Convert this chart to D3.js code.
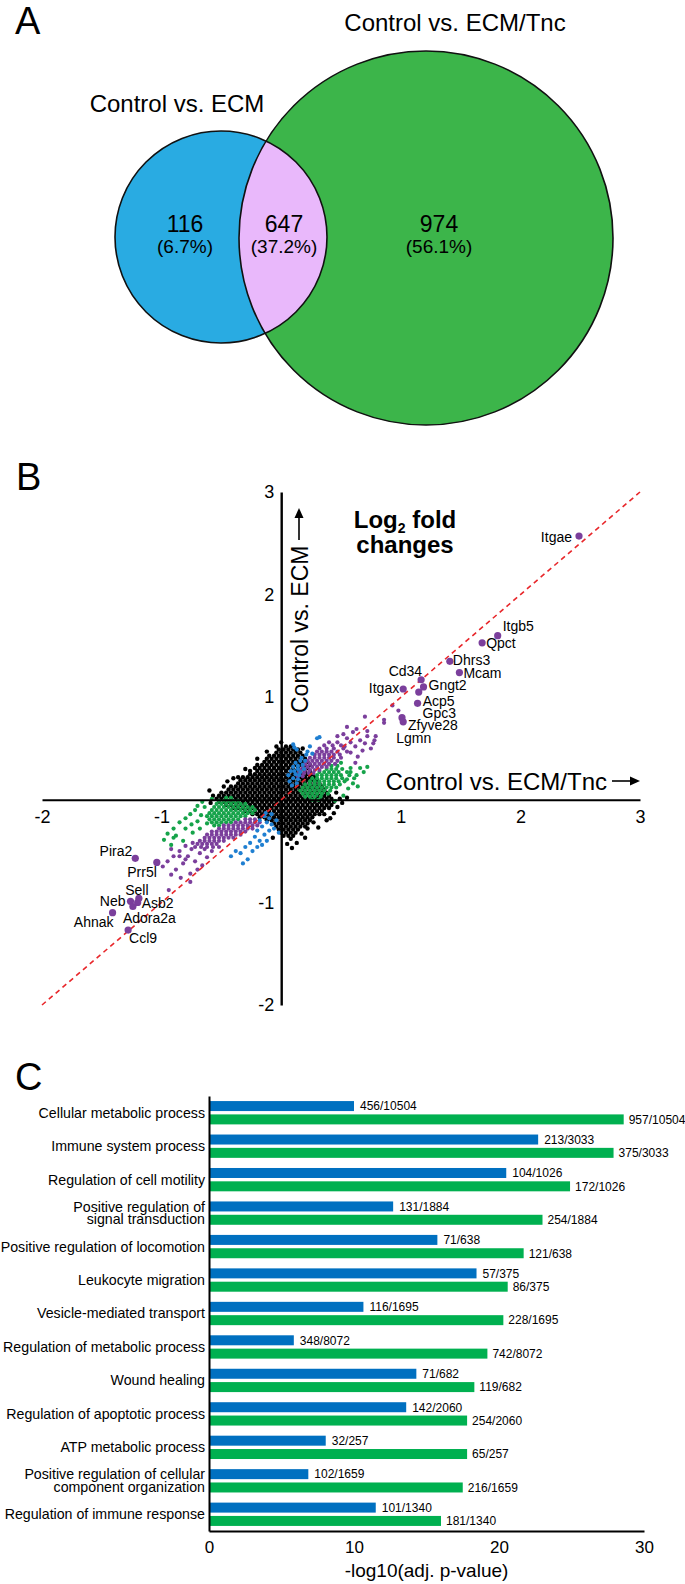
<!DOCTYPE html>
<html><head><meta charset="utf-8">
<script src="https://cdn.jsdelivr.net/npm/d3@7"></script>
<style>
body{margin:0;background:#fff;}
svg{display:block;font-family:"Liberation Sans",Arial,Helvetica,sans-serif;}
</style></head><body>
<svg id="chart" width="685" height="1584"></svg>
<script>
// ================= DATA =================
// Panel A – Venn
const vennSetNames = ["Control vs. ECM", "Control vs. ECM/Tnc"];
const vennCounts = [116, 647, 974];
const vennPercents = ["(6.7%)", "(37.2%)", "(56.1%)"];

// Panel B – log2 fold changes
const xTicksB = [-2, -1, 1, 2, 3];
const yTicksB = [3, 2, 1, -1, -2];
const geneNames = ["Itgae","Itgb5","Qpct","Dhrs3","Mcam","Cd34","Itgax","Gngt2","Acp5","Gpc3","Zfyve28","Lgmn",
                   "Pira2","Prr5l","Sell","Neb","Asb2","Adora2a","Ahnak","Ccl9"];
const geneX = [2.49,1.81,1.68,1.41,1.49,1.17,1.02,1.19,1.15,1.14,1.01,1.02,
               -1.22,-1.04,-1.19,-1.26,-1.20,-1.24,-1.41,-1.28];
const geneY = [2.57,1.60,1.53,1.35,1.24,1.17,1.08,1.10,1.05,0.94,0.80,0.76,
               -0.57,-0.61,-0.96,-0.99,-1.00,-1.04,-1.10,-1.27];

// black: not significant (rows: [y, x values])
const blackRows = [
 [0.52,[0.04,0.08]],
 [0.49,[-0.02,0.02,0.06,0.10,0.14]],
 [0.46,[-0.04,0.00,0.04,0.08,0.12,0.16]],
 [0.43,[-0.10,-0.06,-0.02,0.02,0.06,0.10,0.14,0.18]],
 [0.40,[-0.12,-0.08,-0.04,0.00,0.04,0.08,0.12,0.16,0.20]],
 [0.37,[-0.14,-0.10,-0.06,-0.02,0.02,0.06,0.10,0.14,0.18,0.22]],
 [0.34,[-0.20,-0.16,-0.12,-0.08,-0.04,0.00,0.04,0.08,0.12,0.16,0.20,0.24]],
 [0.31,[-0.22,-0.18,-0.14,-0.10,-0.06,-0.02,0.02,0.06,0.10,0.14,0.18,0.22]],
 [0.28,[-0.26,-0.20,-0.16,-0.12,-0.08,-0.04,0.00,0.04,0.08,0.12,0.16,0.20,0.24]],
 [0.25,[-0.26,-0.22,-0.18,-0.14,-0.10,-0.06,-0.02,0.02,0.06,0.10,0.14,0.18,0.22,0.26]],
 [0.22,[-0.32,-0.28,-0.24,-0.20,-0.16,-0.12,-0.08,-0.04,0.00,0.04,0.08,0.12,0.16,0.20,0.24,0.28]],
 [0.19,[-0.34,-0.30,-0.26,-0.22,-0.18,-0.14,-0.10,-0.06,-0.02,0.02,0.06,0.10,0.14,0.18,0.22,0.26,0.30]],
 [0.16,[-0.36,-0.32,-0.28,-0.24,-0.20,-0.16,-0.12,-0.08,-0.04,0.00,0.04,0.08,0.12,0.16,0.20,0.24,0.28,0.32]],
 [0.13,[-0.42,-0.38,-0.34,-0.30,-0.26,-0.22,-0.18,-0.14,-0.10,-0.06,-0.02,0.02,0.06,0.10,0.14,0.18,0.22,0.26,0.30,0.34]],
 [0.10,[-0.44,-0.40,-0.36,-0.32,-0.28,-0.24,-0.20,-0.16,-0.12,-0.08,-0.04,0.00,0.04,0.08,0.12,0.16,0.20,0.24,0.28,0.32,0.36]],
 [0.07,[-0.50,-0.46,-0.42,-0.38,-0.34,-0.30,-0.26,-0.22,-0.18,-0.14,-0.10,-0.06,-0.02,0.02,0.06,0.10,0.14,0.18,0.22,0.26,0.30,0.34,0.38]],
 [0.04,[-0.52,-0.48,-0.44,-0.40,-0.36,-0.32,-0.28,-0.24,-0.20,-0.16,-0.12,-0.08,-0.04,0.00,0.04,0.08,0.12,0.16,0.20,0.24,0.28,0.32,0.36,0.40]],
 [0.01,[-0.54,-0.50,-0.46,-0.42,-0.38,-0.34,-0.30,-0.26,-0.22,-0.18,-0.14,-0.10,-0.06,-0.02,0.02,0.06,0.10,0.14,0.18,0.22,0.26,0.30,0.34,0.38,0.42]],
 [-0.02,[-0.52,-0.48,-0.44,-0.40,-0.36,-0.32,-0.28,-0.24,-0.20,-0.16,-0.12,-0.08,-0.04,0.00,0.04,0.08,0.12,0.16,0.20,0.24,0.28,0.32,0.36,0.40,0.44]],
 [-0.05,[-0.46,-0.42,-0.38,-0.34,-0.30,-0.26,-0.22,-0.18,-0.14,-0.10,-0.06,-0.02,0.02,0.06,0.10,0.14,0.18,0.22,0.26,0.30,0.34,0.38,0.42]],
 [-0.08,[-0.40,-0.36,-0.32,-0.28,-0.24,-0.20,-0.16,-0.12,-0.08,-0.04,0.00,0.04,0.08,0.12,0.16,0.20,0.24,0.28,0.32,0.36,0.40]],
 [-0.11,[-0.30,-0.26,-0.22,-0.18,-0.14,-0.10,-0.06,-0.02,0.02,0.06,0.10,0.14,0.18,0.22,0.26,0.30,0.34]],
 [-0.14,[-0.24,-0.20,-0.16,-0.12,-0.08,-0.04,0.00,0.04,0.08,0.12,0.16,0.20,0.24,0.28,0.32]],
 [-0.17,[-0.18,-0.14,-0.10,-0.06,-0.02,0.02,0.06,0.10,0.14,0.18,0.22,0.26]],
 [-0.20,[-0.12,-0.08,-0.04,0.00,0.04,0.08,0.12,0.16,0.20,0.24]],
 [-0.23,[-0.06,-0.02,0.02,0.06,0.10,0.14,0.18,0.22]],
 [-0.26,[-0.04,0.00,0.04,0.08,0.12,0.16,0.20]],
 [-0.29,[-0.02,0.02,0.06,0.10,0.14]],
 [-0.32,[0.00,0.04,0.08,0.12]],
 [-0.35,[0.02,0.06,0.10]],
 [-0.38,[0.08]]
];
const blackExtra = [[0.13,-0.42],[0.17,-0.33],[0.47,-0.07],[-0.57,0.04],[0.22,-0.28],[0.49,0.01],[-0.04,0.52],
 [0.36,-0.14],[-0.36,0.22],[0.27,-0.22],[-0.48,0.13],[-0.40,0.21],[-0.30,0.30],[-0.20,0.40],[-0.12,0.47],
 [0.00,0.56],[0.18,0.50],[0.46,0.07],[0.51,-0.03],[0.44,-0.13],[0.38,-0.20],[0.31,-0.27],[0.20,-0.37],
 [0.09,-0.47],[-0.07,-0.37],[-0.60,0.09],[-0.59,-0.03],[0.55,0.02],[0.41,-0.18],[-0.45,0.18],[0.05,-0.43]];

// green: significant only in Control vs. ECM/Tnc
const greenRows = [
 [0.33,[0.42,0.47]],
 [0.30,[0.38,0.42,0.46,0.51]],
 [0.27,[0.32,0.36,0.40,0.44,0.48,0.55]],
 [0.24,[0.30,0.34,0.38,0.42,0.46,0.50,0.57]],
 [0.21,[0.26,0.30,0.34,0.38,0.42,0.46,0.51,0.61]],
 [0.18,[0.24,0.28,0.32,0.36,0.40,0.44,0.48,0.53]],
 [0.15,[0.20,0.24,0.28,0.32,0.36,0.40,0.44,0.49]],
 [0.12,[0.18,0.22,0.26,0.30,0.34,0.38,0.42,0.46]],
 [0.09,[0.16,0.20,0.24,0.28,0.32,0.36,0.41]],
 [0.06,[0.18,0.22,0.26,0.30,0.34,0.39]],
 [0.03,[0.20,0.24,0.28,0.33]],
 [0.00,[0.26,0.31]],
 [0.02,[-0.46,-0.42]],
 [-0.01,[-0.52,-0.48,-0.44,-0.40,-0.36]],
 [-0.04,[-0.54,-0.50,-0.46,-0.42,-0.38,-0.34,-0.30]],
 [-0.07,[-0.56,-0.52,-0.48,-0.44,-0.40,-0.36,-0.32,-0.28,-0.24]],
 [-0.10,[-0.58,-0.54,-0.50,-0.46,-0.42,-0.38,-0.34,-0.30,-0.26,-0.22]],
 [-0.13,[-0.60,-0.56,-0.52,-0.48,-0.44,-0.40,-0.36,-0.32,-0.28,-0.24]],
 [-0.16,[-0.62,-0.58,-0.54,-0.50,-0.46,-0.42,-0.38,-0.34,-0.30]],
 [-0.19,[-0.60,-0.56,-0.52,-0.48,-0.44,-0.40,-0.36]],
 [-0.22,[-0.58,-0.54,-0.50,-0.46,-0.42]],
 [-0.25,[-0.56,-0.52]]
];
const greenExtra = [[0.58,0.31],[0.63,0.24],[0.56,0.11],[0.52,0.04],[0.66,0.31],[0.45,-0.01],[0.60,0.16],[0.58,0.27],
 [0.55,0.20],[0.69,0.27],[0.72,0.32],[0.64,0.13],[0.50,0.36],
 [-0.72,-0.10],[-0.76,-0.14],[-0.70,-0.21],[-0.80,-0.18],[-0.85,-0.22],[-0.90,-0.28],[-0.95,-0.33],[-0.98,-0.39],
 [-0.88,-0.35],[-0.80,-0.28],[-0.82,-0.40],[-0.74,-0.32],[-0.68,-0.28],[-0.92,-0.44],[-0.70,-0.06],[-0.66,-0.02],
 [-0.90,-0.37],[-0.64,-0.07],[-0.67,-0.15],[-0.75,-0.24],[-0.62,-0.23],[-0.58,0.01]];

// purple: significant in both comparisons
const purpleRows = [
 [0.56,[0.40,0.47]],
 [0.53,[0.36,0.43,0.50]],
 [0.50,[0.32,0.38,0.44,0.52]],
 [0.47,[0.30,0.34,0.38,0.42,0.47,0.55]],
 [0.44,[0.28,0.32,0.36,0.40,0.44,0.49]],
 [0.41,[0.24,0.28,0.32,0.36,0.40,0.44,0.50]],
 [0.38,[0.22,0.26,0.30,0.34,0.38,0.42,0.47]],
 [0.35,[0.20,0.24,0.28,0.32,0.36,0.40,0.45]],
 [0.32,[0.18,0.22,0.26,0.30,0.34,0.38]],
 [0.29,[0.16,0.20,0.24,0.28,0.32]],
 [0.26,[0.15,0.19,0.23,0.27]],
 [0.23,[0.14,0.18]],
 [-0.19,[-0.30,-0.26,-0.22]],
 [-0.22,[-0.38,-0.34,-0.30,-0.26,-0.22,-0.18]],
 [-0.25,[-0.48,-0.44,-0.40,-0.36,-0.32,-0.28,-0.24,-0.20]],
 [-0.28,[-0.52,-0.48,-0.44,-0.40,-0.36,-0.32,-0.28,-0.24]],
 [-0.31,[-0.58,-0.54,-0.50,-0.46,-0.42,-0.38,-0.34,-0.30]],
 [-0.34,[-0.62,-0.58,-0.54,-0.50,-0.46,-0.42,-0.38,-0.34]],
 [-0.37,[-0.64,-0.60,-0.56,-0.52,-0.48,-0.44,-0.40]],
 [-0.40,[-0.68,-0.64,-0.60,-0.56,-0.52,-0.48]],
 [-0.43,[-0.70,-0.66,-0.62,-0.58,-0.54]],
 [-0.46,[-0.72,-0.67,-0.62,-0.57]]
];
const purpleExtra = [[0.58,0.46],[0.62,0.52],[0.55,0.60],[0.66,0.58],[0.70,0.55],[0.75,0.50],[0.72,0.62],[0.60,0.66],
 [0.52,0.64],[0.78,0.58],[0.68,0.48],[0.64,0.42],[0.47,0.62],[0.55,0.71],[0.63,0.69],[0.72,0.67],[0.77,0.55],[0.70,0.81],
 [0.86,0.78],[0.86,0.75],[0.93,0.92],[0.98,0.87],[0.79,0.62],[0.62,0.36],[0.53,0.52],[0.58,0.56],
 [-0.75,-0.48],[-0.80,-0.45],[-0.85,-0.50],[-0.78,-0.55],[-0.90,-0.55],[-0.72,-0.60],[-0.82,-0.62],[-0.95,-0.60],
 [-0.70,-0.68],[-0.88,-0.68],[-0.76,-0.72],[-0.68,-0.52],[-0.62,-0.56],[-0.58,-0.50],[-0.92,-0.48],[-0.84,-0.76],
 [-0.94,-0.88],[-0.99,-0.65],[-0.52,-0.46],[-0.66,-0.64],[-0.76,-0.80],[-0.85,-0.55],[-0.92,-0.73],[-0.74,-0.42],
 [-0.80,-0.58],[-0.64,-0.48]];

// blue: significant only in Control vs. ECM
const bluePts = [[0.10,0.54],[0.11,0.51],[0.13,0.49],[0.21,0.44],[0.30,0.60],[0.32,0.61],[0.24,0.52],[0.17,0.41],
 [0.12,0.36],[0.10,0.32],[0.14,0.30],[0.08,0.28],[0.12,0.25],[0.16,0.27],[0.10,0.21],[0.14,0.20],[0.07,0.18],
 [0.18,0.34],[0.20,0.38],[0.16,0.38],[0.06,0.24],[0.09,0.14],[0.13,0.16],[0.22,0.47],[0.26,0.45],[0.19,0.30],
 [0.14,0.33],[0.11,0.28],[0.15,0.24],
 [-0.14,-0.16],[-0.10,-0.18],[-0.12,-0.22],[-0.08,-0.24],[-0.16,-0.26],[-0.06,-0.28],[-0.10,-0.30],[-0.04,-0.20],
 [-0.18,-0.20],[-0.13,-0.13],[-0.08,-0.14],[-0.20,-0.30],[-0.14,-0.34],[-0.22,-0.36],[-0.18,-0.40],[-0.26,-0.42],
 [-0.30,-0.46],[-0.24,-0.50],[-0.34,-0.52],[-0.28,-0.58],[-0.38,-0.50],[-0.20,-0.46],[-0.12,-0.40],[-0.02,-0.32],
 [-0.42,-0.55],[-0.32,-0.62],[-0.16,-0.44]];

// Panel C – GO terms
const goTerms = ["Cellular metabolic process","Immune system process","Regulation of cell motility",
 "Positive regulation of\nsignal transduction","Positive regulation of locomotion","Leukocyte migration",
 "Vesicle-mediated transport","Regulation of metabolic process","Wound healing",
 "Regulation of apoptotic process","ATP metabolic process",
 "Positive regulation of cellular\ncomponent organization","Regulation of immune response"];
const ecmValues = [10.0,22.7,20.5,12.7,15.75,18.45,10.65,5.85,14.3,13.6,8.05,6.85,11.5];
const tncValues = [28.6,27.9,24.9,23.0,21.7,20.6,20.3,19.2,18.3,17.8,17.8,17.5,16.0];
const ecmLabels = ["456/10504","213/3033","104/1026","131/1884","71/638","57/375","116/1695","348/8072","71/682","142/2060","32/257","102/1659","101/1340"];
const tncLabels = ["957/10504","375/3033","172/1026","254/1884","121/638","86/375","228/1695","742/8072","119/682","254/2060","65/257","216/1659","181/1340"];
const xTicksC = [0, 10, 20, 30];

// ================= LAYOUT =================
const FONT = "'Liberation Sans', Arial, Helvetica, sans-serif";
const svg = d3.select("#chart");

// Panel letters
const letters = [{t:"A", x:15, y:34},{t:"B", x:16, y:490},{t:"C", x:15, y:1090}];
svg.selectAll("text.letter").data(letters).join("text").attr("class","letter")
  .attr("x",d=>d.x).attr("y",d=>d.y).attr("font-size",38).text(d=>d.t);

// ---------- Panel A ----------
const vennGeom = [{cx:221, cy:237, r:106, fill:"#29abe2"}, {cx:426, cy:238, r:187, fill:"#3cb54a"}];
const gA = svg.append("g");
gA.selectAll("circle.fillc").data(vennGeom).join("circle").attr("class","fillc")
  .attr("cx",d=>d.cx).attr("cy",d=>d.cy).attr("r",d=>d.r).attr("fill",d=>d.fill);
const defs = svg.append("defs");
defs.append("clipPath").attr("id","clipGreen").append("circle")
  .attr("cx",vennGeom[1].cx).attr("cy",vennGeom[1].cy).attr("r",vennGeom[1].r);
gA.append("circle").attr("cx",vennGeom[0].cx).attr("cy",vennGeom[0].cy).attr("r",vennGeom[0].r)
  .attr("fill","#e9b8fb").attr("clip-path","url(#clipGreen)");
gA.selectAll("circle.edge").data(vennGeom).join("circle").attr("class","edge")
  .attr("cx",d=>d.cx).attr("cy",d=>d.cy).attr("r",d=>d.r).attr("fill","none")
  .attr("stroke","#111").attr("stroke-width",1.6);
const setTitlePos = [{x:177, y:112},{x:455, y:31}];
gA.selectAll("text.settitle").data(vennSetNames).join("text").attr("class","settitle")
  .attr("x",(d,i)=>setTitlePos[i].x).attr("y",(d,i)=>setTitlePos[i].y)
  .attr("text-anchor","middle").attr("font-size",24).text(d=>d);
const regionX = [185, 284, 439];
gA.selectAll("text.cnt").data(vennCounts).join("text").attr("class","cnt")
  .attr("x",(d,i)=>regionX[i]).attr("y",232).attr("text-anchor","middle").attr("font-size",23).text(d=>d);
gA.selectAll("text.pct").data(vennPercents).join("text").attr("class","pct")
  .attr("x",(d,i)=>regionX[i]).attr("y",253).attr("text-anchor","middle").attr("font-size",19).text(d=>d);

// ---------- Panel B ----------
const xB = d3.scaleLinear().domain([-2,3]).range([42,640]);
const yB = d3.scaleLinear().domain([-2,3]).range([1005,492]);
const gB = svg.append("g");

function rowsToPts(rows){ const out=[]; rows.forEach(([y,xs])=>xs.forEach(x=>out.push([x,y]))); return out; }
function drawPts(pts, color, r){
  gB.append("g").selectAll("circle").data(pts).join("circle")
    .attr("cx",d=>xB(d[0])).attr("cy",d=>yB(d[1])).attr("r",r).attr("fill",color);
}
drawPts(rowsToPts(blackRows).concat(blackExtra), "#000", 2.2);
drawPts(rowsToPts(greenRows).concat(greenExtra), "#16a34a", 2.1);
drawPts(rowsToPts(purpleRows).concat(purpleExtra), "#7b3f9c", 2.1);
drawPts(bluePts, "#1f7fd1", 2.1);

// axes
const fmtSigned = d => d < 0 ? "-" + Math.abs(d) : String(d);
const axX = gB.append("g").attr("transform",`translate(0,${yB(0)})`)
  .call(d3.axisBottom(xB).tickValues(xTicksB).tickSize(0).tickSizeOuter(0).tickPadding(10).tickFormat(fmtSigned));
axX.select(".domain").attr("stroke","#000").attr("stroke-width",2);
axX.selectAll("text").attr("font-size",18).attr("font-family",FONT).attr("fill","#000");
const axY = gB.append("g").attr("transform",`translate(${xB(0)},0)`)
  .call(d3.axisLeft(yB).tickValues(yTicksB).tickSize(0).tickSizeOuter(0).tickPadding(7).tickFormat(fmtSigned));
axY.select(".domain").attr("stroke","#000").attr("stroke-width",2.4);
axY.selectAll("text").attr("font-size",18).attr("font-family",FONT).attr("fill","#000");

// identity line
gB.append("line").attr("x1",xB(-2)).attr("y1",yB(-2)).attr("x2",xB(3)).attr("y2",yB(3))
  .attr("stroke","#e8262a").attr("stroke-width",1.6).attr("stroke-dasharray","5,4");

// gene points
const genes = geneNames.map((n,i)=>({n, x:geneX[i], y:geneY[i]}));
gB.append("g").selectAll("circle").data(genes).join("circle")
  .attr("cx",d=>xB(d.x)).attr("cy",d=>yB(d.y)).attr("r",3.6).attr("fill","#7b3f9c");
const geneLabelLayout = {
 Itgae:{dx:-7,dy:6,a:"end"}, Itgb5:{dx:5,dy:-5,a:"start"}, Qpct:{dx:4,dy:5,a:"start"},
 Dhrs3:{dx:3,dy:4,a:"start"}, Mcam:{dx:4,dy:5,a:"start"}, Cd34:{dx:1,dy:-4,a:"end"},
 Itgax:{dx:-4,dy:4,a:"end"}, Gngt2:{dx:5,dy:3,a:"start"}, Acp5:{dx:4,dy:14,a:"start"},
 Gpc3:{dx:5,dy:15,a:"start"}, Zfyve28:{dx:6,dy:12,a:"start"}, Lgmn:{dx:-7,dy:21,a:"start"},
 Pira2:{dx:-3,dy:-2,a:"end"}, Prr5l:{dx:0,dy:15,a:"end"}, Sell:{dx:-2,dy:-3,a:"middle"},
 Neb:{dx:-5,dy:5,a:"end"}, Asb2:{dx:4,dy:6,a:"start"}, Adora2a:{dx:-10,dy:16,a:"start"},
 Ahnak:{dx:1,dy:14,a:"end"}, Ccl9:{dx:1,dy:13,a:"start"}
};
gB.append("g").selectAll("text").data(genes).join("text")
  .attr("x",d=>xB(d.x)+geneLabelLayout[d.n].dx).attr("y",d=>yB(d.y)+geneLabelLayout[d.n].dy)
  .attr("text-anchor",d=>geneLabelLayout[d.n].a).attr("font-size",14).text(d=>d.n);

// axis titles with arrows
gB.append("text").attr("x",607).attr("y",790).attr("text-anchor","end").attr("font-size",24).text("Control vs. ECM/Tnc");
gB.append("line").attr("x1",612).attr("y1",781).attr("x2",632).attr("y2",781).attr("stroke","#000").attr("stroke-width",1.6);
gB.append("path").attr("d","M640,781 L630,776.5 L630,785.5 Z").attr("fill","#000");
gB.append("text").attr("transform","translate(308,713) rotate(-90)").attr("font-size",23).text("Control vs. ECM");
gB.append("line").attr("x1",299).attr("y1",540).attr("x2",299).attr("y2",516).attr("stroke","#000").attr("stroke-width",1.6);
gB.append("path").attr("d","M299,508 L294.5,518 L303.5,518 Z").attr("fill","#000");

// Log2 fold changes title
const t1 = gB.append("text").attr("x",405).attr("y",528).attr("text-anchor","middle").attr("font-size",24).attr("font-weight","bold");
t1.append("tspan").text("Log");
t1.append("tspan").attr("font-size",14).attr("dy",5).text("2");
t1.append("tspan").attr("dy",-5).text(" fold");
gB.append("text").attr("x",405).attr("y",553).attr("text-anchor","middle").attr("font-size",24).attr("font-weight","bold").text("changes");

// ---------- Panel C ----------
const xC = d3.scaleLinear().domain([0,30]).range([209,644]);
const yC = d3.scaleBand().domain(goTerms).range([1096,1531]);
const ySub = d3.scaleBand().domain(["ecm","tnc"]).range([0,yC.bandwidth()]).paddingInner(0.25).paddingOuter(0.38);
const gC = svg.append("g");
const rows = goTerms.map((t,i)=>({t, ecm:ecmValues[i], tnc:tncValues[i], le:ecmLabels[i], lt:tncLabels[i]}));
const grp = gC.selectAll("g.grp").data(rows).join("g").attr("class","grp")
  .attr("transform",d=>`translate(0,${yC(d.t)})`);
grp.append("rect").attr("x",xC(0)).attr("y",ySub("ecm")).attr("height",ySub.bandwidth())
  .attr("width",d=>xC(d.ecm)-xC(0)).attr("fill","#0070c0");
grp.append("rect").attr("x",xC(0)).attr("y",ySub("tnc")).attr("height",ySub.bandwidth())
  .attr("width",d=>xC(d.tnc)-xC(0)).attr("fill","#00b050");
grp.append("text").attr("x",d=>xC(d.ecm)+6).attr("y",ySub("ecm")+ySub.bandwidth()/2+4.3)
  .attr("font-size",12).text(d=>d.le);
grp.append("text").attr("x",d=>xC(d.tnc)+5).attr("y",ySub("tnc")+ySub.bandwidth()/2+4.3)
  .attr("font-size",12).text(d=>d.lt);
// category labels
grp.each(function(d){
  const lines = d.t.split("\n");
  const c = yC.bandwidth()/2;
  const txt = d3.select(this).append("text").attr("text-anchor","end").attr("font-size",14.2);
  if(lines.length===1){
    txt.append("tspan").attr("x",205).attr("y",c+5).text(lines[0]);
  } else {
    txt.append("tspan").attr("x",205).attr("y",c-1.5).text(lines[0]);
    txt.append("tspan").attr("x",205).attr("y",c+11).text(lines[1]);
  }
});
const axYC = gC.append("g").attr("transform",`translate(${xC(0)},0)`)
  .call(d3.axisLeft(yC).tickSize(0).tickSizeOuter(0).tickFormat(""));
axYC.select(".domain").attr("stroke","#000").attr("stroke-width",2);
const axXC = gC.append("g").attr("transform",`translate(0,${yC.range()[1]})`)
  .call(d3.axisBottom(xC).tickValues(xTicksC).tickSize(0).tickSizeOuter(0).tickPadding(10));
axXC.select(".domain").attr("stroke","#000").attr("stroke-width",2);
axXC.selectAll("text").attr("font-size",17).attr("font-family",FONT).attr("fill","#000");
gC.append("text").attr("x",(xC(0)+xC(30))/2).attr("y",1577).attr("text-anchor","middle")
  .attr("font-size",19).text("-log10(adj. p-value)");
</script>
</body></html>
